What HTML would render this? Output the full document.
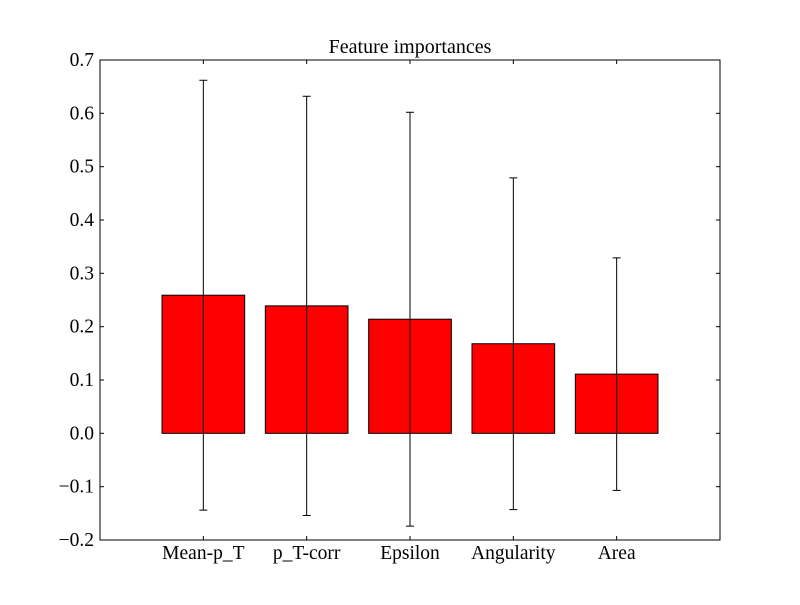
<!DOCTYPE html>
<html><head><meta charset="utf-8">
<style>
body{margin:0;background:#fff;}
svg text{font-family:"Liberation Serif",serif;fill:#000;}
</style></head>
<body>
<svg id="chart" width="800" height="600" xmlns="http://www.w3.org/2000/svg">
<rect width="800" height="600" fill="#fff"/>
<text x="410" y="53" font-size="20" text-anchor="middle">Feature importances</text>
<g id="plot"></g>
</svg>
<script>
const categories = ["Mean-p_T","p_T-corr","Epsilon","Angularity","Area"];
const importances = [0.259,0.239,0.214,0.168,0.111];
const errors = [0.403,0.393,0.388,0.311,0.218];
const yTicks = [-0.2,-0.1,0.0,0.1,0.2,0.3,0.4,0.5,0.6,0.7];
const yTickLabels = ["\u22120.2","\u22120.1","0.0","0.1","0.2","0.3","0.4","0.5","0.6","0.7"];

const L=100,R=720,T=60,B=540;
const xMin=-1,xMax=5,yMin=-0.2,yMax=0.7;
const xs=v=>L+(v-xMin)/(xMax-xMin)*(R-L);
const ys=v=>B-(v-yMin)/(yMax-yMin)*(B-T);
const NS="http://www.w3.org/2000/svg";
const g=document.getElementById('plot');
function mk(tag,attrs){const e=document.createElementNS(NS,tag);for(const k in attrs)e.setAttribute(k,attrs[k]);g.appendChild(e);return e;}

categories.forEach((c,i)=>{
  const x0=xs(i-0.4),x1=xs(i+0.4),y0=ys(0),y1=ys(importances[i]);
  const b=mk('rect',{x:x0,y:Math.min(y0,y1),width:x1-x0,height:Math.abs(y0-y1),fill:'#ff0000',stroke:'#000','stroke-width':1});
  
  
});
categories.forEach((c,i)=>{
  const cx=xs(i),yt=ys(importances[i]+errors[i]),yb=ys(importances[i]-errors[i]);
  const e=mk('line',{x1:cx,x2:cx,y1:yt,y2:yb,stroke:'#000','stroke-width':1});
  
  
  mk('line',{x1:cx-4,x2:cx+4,y1:yt,y2:yt,stroke:'#000','stroke-width':1});
  mk('line',{x1:cx-4,x2:cx+4,y1:yb,y2:yb,stroke:'#000','stroke-width':1});
  mk('line',{x1:cx,x2:cx,y1:B,y2:B-4,stroke:'#000'});
  mk('line',{x1:cx,x2:cx,y1:T,y2:T+4,stroke:'#000'});
  const t=mk('text',{x:cx,y:B+19,'font-size':19.5,'text-anchor':'middle'});
  t.textContent=c;
  
  
});
yTicks.forEach((v,i)=>{
  const y=ys(v);
  mk('line',{x1:L,x2:L+4,y1:y,y2:y,stroke:'#000'});
  mk('line',{x1:R,x2:R-4,y1:y,y2:y,stroke:'#000'});
  const t=mk('text',{x:L-6,y:y+6,'font-size':19.5,'text-anchor':'end'});
  t.textContent=yTickLabels[i];
  
  
});
const frame=mk('rect',{x:L,y:T,width:R-L,height:B-T,fill:'none',stroke:'#000','stroke-width':1});


</script>
</body></html>
